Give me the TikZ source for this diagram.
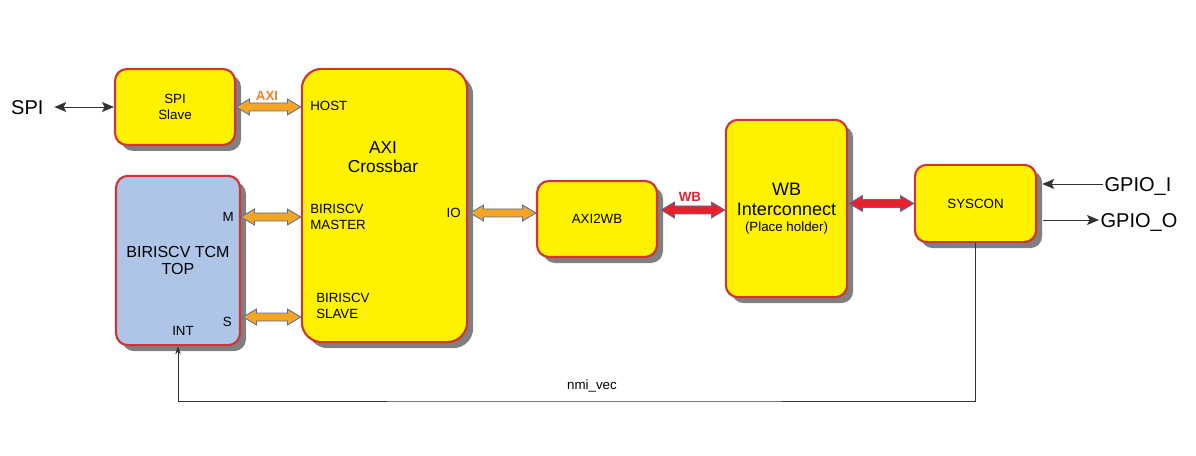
\documentclass[tikz,border=0pt]{standalone}
\usepackage{fontspec}
\setmainfont{Liberation Sans}
\usetikzlibrary{positioning, arrows.meta, shadows, calc}

\definecolor{blkyellow}{RGB}{255,242,0}
\definecolor{blkblue}{RGB}{174,197,232}
\definecolor{blkedge}{RGB}{208,52,52}
\definecolor{axiorange}{RGB}{246,164,35}
\definecolor{wbred}{RGB}{232,32,42}
\definecolor{busedge}{RGB}{80,110,165}
\definecolor{axitext}{RGB}{245,128,40}

% fat double-headed bus arrow, drawn at the height of #1
\newcommand{\busarrow}[3]{%
  \draw[bus, fill=#3] let \p1=(#1), \p2=(#2) in
    (\x1,\y1) -- (\x1+10pt,\y1+6pt) -- (\x1+10pt,\y1+3pt) -- (\x2-10pt,\y1+3pt)
    -- (\x2-10pt,\y1+6pt) -- (\x2,\y1) -- (\x2-10pt,\y1-6pt) -- (\x2-10pt,\y1-3pt)
    -- (\x1+10pt,\y1-3pt) -- (\x1+10pt,\y1-6pt) -- cycle;}

\begin{document}
\begin{tikzpicture}[
  x=0.75pt, y=-0.75pt,
  >={Stealth[length=9pt,width=7.5pt,inset=2pt]},
  block/.style={draw=blkedge, line width=1.6pt, fill=blkyellow, rounded corners=9pt,
    align=center, font=\fontsize{10}{12.5}\selectfont,
    drop shadow={shadow xshift=4.5pt, shadow yshift=-4.5pt, fill=black!50, opacity=1}},
  port/.style={font=\fontsize{10}{11.8}\selectfont, inner sep=0pt, align=left},
  io/.style={font=\fontsize{15}{18}\selectfont, inner sep=1pt, text height=10.7pt, text depth=0pt},
  buslabel/.style={font=\bfseries\fontsize{10}{12}\selectfont, inner sep=0pt},
  bus/.style={draw=busedge, line width=0.6pt, line join=miter},
  sig/.style={draw=black!80, line width=0.6pt}
]
  \useasboundingbox (0,0) rectangle (1196,456);

  % blocks
  \node[block, minimum width=90pt, minimum height=57pt] (SPI) at (175,107) {SPI\\Slave};
  \node[block, minimum width=124pt, minimum height=205pt, rounded corners=15pt] (XBAR) at (384.5,205.5) {};
  \node[block, fill=blkblue, minimum width=93pt, minimum height=127pt,
    font=\fontsize{12}{13.2}\selectfont] (TCM) at (178,260.5) {BIRISCV TCM\\TOP};
  \node[block, minimum width=90pt, minimum height=57pt] (A2W) at (597,219) {AXI2WB};
  \node[block, minimum width=91pt, minimum height=133pt, font=\fontsize{13.5}{15}\selectfont]
    (WBIC) at (786.5,208.5) {WB\\Interconnect\\[-3pt]{\fontsize{10}{11}\selectfont (Place holder)}};
  \node[block, minimum width=91pt, minimum height=58pt] (SYSCON) at (975.5,203.5) {SYSCON};

  % labels inside the crossbar and the core
  \node[align=center, font=\fontsize{13}{14.8}\selectfont] (XBARlbl) at (383,157) {AXI\\Crossbar};
  \node[port, anchor=west] (HOST) at (310,106) {HOST};
  \node[port, anchor=west] (MASTER) at (310,217) {BIRISCV\\MASTER};
  \node[port, anchor=east] (IO) at (461,213) {IO};
  \node[port, anchor=west] (SLAVE) at (316,306) {BIRISCV\\SLAVE};
  \node[port, anchor=east] (M) at (234,217) {M};
  \node[port, anchor=east] (S) at (232,322) {S};
  \node[port] (INT) at (183,331) {INT};

  % buses
  \busarrow{SPI.east}{XBAR.west}{axiorange}
  \node[buslabel, text=axitext] (AXIlbl) at (267,96) {AXI};
  \busarrow{TCM.east |- M}{XBAR.west}{axiorange}
  \busarrow{$(TCM.east |- S)+(2,-5)$}{XBAR.west}{axiorange}
  \busarrow{$(XBAR.east |- IO)+(2,0)$}{A2W.west}{axiorange}
  \busarrow{$(A2W.east)+(3,-9)$}{WBIC.west}{wbred}
  \node[buslabel, text=wbred] (WBlbl) at (690,197) {WB};
  \busarrow{$(WBIC.east |- SYSCON.west)+(1,0)$}{SYSCON.west}{wbred}

  % outside signals
  \node[io, anchor=east] (SPItxt) at (45,107) {SPI};
  \node[io, anchor=west] (GPIOI) at (1103,184) {GPIO\_I};
  \node[io, anchor=west] (GPIOO) at (1099,220) {GPIO\_O};
  \draw[sig, <->, shorten <=7pt] (SPItxt.east) -- (SPI.west);
  \draw[sig, ->] (GPIOI.west) -- ($(SYSCON.east |- GPIOI)+(5,0)$);
  \draw[sig, ->] ($(SYSCON.east |- GPIOO)+(6,0)$) -- (GPIOO.west);

  % nmi loop back to the core
  \coordinate (NMI) at (592,401);
  \draw[sig, ->, >={Stealth[length=6pt,width=4pt]}] (SYSCON.south) |- (NMI) -| (TCM.south);
  \node[above=3pt of NMI, font=\fontsize{10}{12}\selectfont] (NMIlbl) {nmi\_vec};
\end{tikzpicture}
\end{document}
